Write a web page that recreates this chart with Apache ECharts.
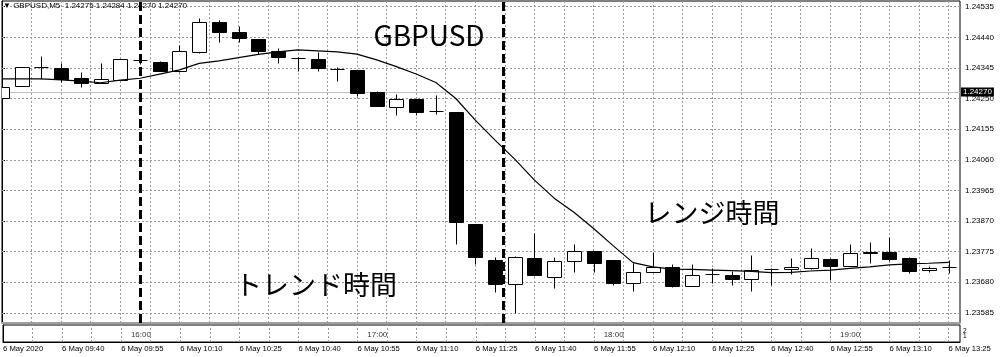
<!DOCTYPE html>
<html>
<head>
<meta charset="utf-8">
<script src="https://cdn.jsdelivr.net/npm/echarts@6/dist/echarts.min.js"></script>
<style>
html,body{margin:0;padding:0;background:#fff;}
#chart{width:1000px;height:357px;}
</style>
</head>
<body>
<div id="chart"></div>
<script>
// ---- data (GBPUSD M5, 6 May 2020, bars 09:25 .. 13:25) ----
var barOpen = [1.24252,1.24289,1.24347,1.24344,1.24313,1.24299,1.24308,1.24370,1.24364,1.24335,1.24394,1.24488,1.24456,1.24435,1.24398,1.24375,1.24372,1.24341,1.24339,1.24269,1.24225,1.24248,1.24212,1.24207,1.23860,1.23749,1.23674,1.23754,1.23697,1.23746,1.23778,1.23749,1.23677,1.23711,1.23726,1.23669,1.23705,1.23703,1.23690,1.23720,1.23720,1.23725,1.23752,1.23731,1.23770,1.23775,1.23756,1.23718,1.23728];
var barClose = [1.24287,1.24349,1.24347,1.24311,1.24299,1.24310,1.24372,1.24370,1.24336,1.24398,1.24488,1.24456,1.24437,1.24398,1.24378,1.24375,1.24344,1.24341,1.24268,1.24227,1.24248,1.24209,1.24212,1.23868,1.23758,1.23674,1.23758,1.23703,1.23746,1.23778,1.23741,1.23679,1.23711,1.23728,1.23669,1.23703,1.23705,1.23690,1.23718,1.23720,1.23726,1.23756,1.23731,1.23772,1.23775,1.23752,1.23716,1.23725,1.23728];
var barLow = [1.24246,1.24289,1.24310,1.24300,1.24287,1.24299,1.24308,1.24357,1.24335,1.24333,1.24391,1.24426,1.24426,1.24387,1.24361,1.24336,1.24335,1.24305,1.24258,1.24227,1.24199,1.24199,1.24202,1.23799,1.23737,1.23651,1.23584,1.23699,1.23661,1.23713,1.23713,1.23672,1.23653,1.23711,1.23666,1.23669,1.23679,1.23672,1.23654,1.23672,1.23705,1.23720,1.23687,1.23731,1.23739,1.23747,1.23708,1.23713,1.23710];
var barHigh = [1.24289,1.24349,1.24382,1.24359,1.24331,1.24361,1.24373,1.24385,1.24367,1.24416,1.24500,1.24494,1.24475,1.24435,1.24408,1.24378,1.24395,1.24349,1.24339,1.24273,1.24264,1.24248,1.24261,1.24208,1.23861,1.23759,1.23762,1.23832,1.23758,1.23798,1.23778,1.23749,1.23739,1.23775,1.23736,1.23736,1.23723,1.23715,1.23765,1.23724,1.23754,1.23785,1.23754,1.23799,1.23806,1.23821,1.23759,1.23731,1.23749];
var maLine = [1.24311,1.24311,1.24311,1.24308,1.24304,1.24299,1.24307,1.24313,1.24326,1.24339,1.24359,1.24367,1.24377,1.24387,1.24395,1.24401,1.24398,1.24395,1.24388,1.24370,1.24349,1.24326,1.24300,1.24251,1.24183,1.24121,1.24062,1.23997,1.23941,1.23897,1.23847,1.23793,1.23741,1.23728,1.23721,1.23720,1.23718,1.23716,1.23714,1.23710,1.23711,1.23715,1.23718,1.23723,1.23728,1.23734,1.23737,1.23739,1.23742];

var priceTicks = [1.23585,1.23680,1.23775,1.23870,1.23965,1.24060,1.24155,1.24250,1.24345,1.24440,1.24535];
var timeLabels = ['6 May 2020','6 May 09:40','6 May 09:55','6 May 10:10','6 May 10:25','6 May 10:40','6 May 10:55','6 May 11:10','6 May 11:25','6 May 11:40','6 May 11:55','6 May 12:10','6 May 12:25','6 May 12:40','6 May 12:55','6 May 13:10','6 May 13:25'];
var timeLabelBars = [0,3,6,9,12,15,18,21,24,27,30,33,36,39,42,45,48];
var gridBars = [1.5,3,4.5,6,7.5,9,10.5,12,13.5,15,16.5,18,19.5,21,22.5,24,25.5,27,28.5,30,31.5,33,34.5,36,37.5,39,40.5,42,43.5,45,46.5,48];
var localHourLabels = ['16:00','17:00','18:00','19:00'];
var localHourBars = [7,19,31,43];
var subLevelsText = '2\n1';
var markerBars = [7,25.4];
var bidPrice = 1.24270;
var headerText = '\u25BC GBPUSD,M5  1.24275 1.24284 1.24270 1.24270';
var titleText = 'GBPUSD';
var rangeText = 'レンジ時間';
var trendText = 'トレンド時間';

// ---- build ----
var candleData = barOpen.map(function (o, i) { return [i, o, barClose[i], barLow[i], barHigh[i]]; });
var maData = maLine.map(function (v, i) { return [i, v]; });
var hGridData = priceTicks.map(function (v) { return { yAxis: v }; });
var vGridData = gridBars.map(function (b) { return { xAxis: b }; });
var hourData = localHourBars.map(function (b, i) { return [b, 1.2, localHourLabels[i]]; });

var FONT = '"Liberation Sans", Arial, sans-serif';
var XMAX = 48.58;
var GRIDC = '#9a9a9a';
var GRIDLINE = { color: GRIDC, type: [2, 2], width: 1 };

var chart = echarts.init(document.getElementById('chart'), null, { renderer: 'canvas' });

function renderCandle(params, api) {
  var i = api.value(0), o = api.value(1), c = api.value(2), l = api.value(3), h = api.value(4);
  var pO = api.coord([i, o]), pC = api.coord([i, c]), pL = api.coord([i, l]), pH = api.coord([i, h]);
  var x = Math.round(pO[0]) + 0.5;
  var half = 7;
  var top = Math.round(Math.min(pO[1], pC[1])) + 0.5;
  var bot = Math.round(Math.max(pO[1], pC[1])) + 0.5;
  var kids = [{
    type: 'line',
    shape: { x1: x, y1: Math.round(pH[1]) + 0.5, x2: x, y2: Math.round(pL[1]) + 0.5 },
    style: { stroke: '#000', lineWidth: 1 }
  }];
  if (bot - top < 1) {
    kids.push({ type: 'line', shape: { x1: x - half, y1: top, x2: x + half, y2: top }, style: { stroke: '#000', lineWidth: 1 } });
  } else {
    kids.push({ type: 'rect', shape: { x: x - half, y: top, width: half * 2, height: bot - top },
      style: { fill: c > o ? '#fff' : '#000', stroke: '#000', lineWidth: 1 } });
  }
  return { type: 'group', children: kids };
}

var option = {
  animation: false,
  backgroundColor: '#fff',
  grid: [
    { left: 2, top: 1, width: 958, height: 322, show: true, borderColor: '#000', borderWidth: 1, backgroundColor: 'transparent' },
    { left: 2, top: 325, width: 958, height: 17, show: true, borderColor: '#000', borderWidth: 1, backgroundColor: 'transparent' }
  ],
  xAxis: [
    { type: 'value', gridIndex: 0, min: 0, max: XMAX,
      axisLine: { show: true, lineStyle: { color: '#a0a0a0', width: 2 } },
      axisTick: { show: false }, axisLabel: { show: false },
      splitLine: { show: false } },
    { type: 'value', gridIndex: 1, min: 0, max: XMAX,
      axisLine: { show: true, lineStyle: { color: '#000', width: 1 } },
      axisTick: { show: false },
      axisLabel: { show: true, customValues: timeLabelBars, align: 'left', margin: 3,
        fontFamily: FONT, fontSize: 7.7, color: '#000',
        formatter: function (v) { return timeLabels[timeLabelBars.indexOf(Math.round(v))]; } },
      splitLine: { show: false } }
  ],
  yAxis: [
    { type: 'value', gridIndex: 0, position: 'right', min: 1.2355366, max: 1.2455268, scale: true,
      axisLine: { show: true, lineStyle: { color: '#000', width: 1 } },
      axisTick: { show: true, customValues: priceTicks, length: 3, lineStyle: { color: '#000' } },
      axisLabel: { show: true, customValues: priceTicks, margin: 5, fontFamily: FONT, fontSize: 8, color: '#000',
        formatter: function (v) { return v.toFixed(5); } },
      splitLine: { show: false } },
    { type: 'value', gridIndex: 1, position: 'right', min: 0, max: 3,
      axisLine: { show: true, lineStyle: { color: '#000', width: 1 } },
      axisTick: { show: false },
      axisLabel: { show: true, customValues: [1.4], margin: 3, fontFamily: FONT, fontSize: 6.5, lineHeight: 5, color: '#000',
        formatter: function () { return subLevelsText; } },
      splitLine: { show: false } }
  ],
  graphic: [
    { type: 'text', left: 3, top: 2, z: 100, style: { text: headerText, font: '8px ' + FONT, fill: '#000' } },
    { type: 'text', x: 429, y: 35, z: 100, style: { text: titleText, font: '28px "Noto Sans CJK JP", "Noto Sans", sans-serif', fill: '#000', align: 'center', verticalAlign: 'middle' } },
    { type: 'text', x: 712, y: 213, z: 100, style: { text: rangeText, font: '27px "Noto Sans CJK JP", sans-serif', fill: '#000', align: 'center', verticalAlign: 'middle' } },
    { type: 'text', x: 316, y: 285, z: 100, style: { text: trendText, font: '27px "Noto Sans CJK JP", sans-serif', fill: '#000', align: 'center', verticalAlign: 'middle' } }
  ],
  series: [
    { type: 'line', xAxisIndex: 0, yAxisIndex: 0, data: [], silent: true, z: 1,
      markLine: { silent: true, symbol: 'none', animation: false, precision: 5,
        lineStyle: GRIDLINE, label: { show: false },
        data: hGridData.concat(vGridData) } },
    { type: 'line', xAxisIndex: 1, yAxisIndex: 1, data: [], silent: true, z: 1,
      markLine: { silent: true, symbol: 'none', animation: false, precision: 5,
        lineStyle: GRIDLINE, label: { show: false },
        data: vGridData } },
    { type: 'line', xAxisIndex: 0, yAxisIndex: 0, data: [], silent: true, z: 2,
      markLine: { silent: true, symbol: 'none', animation: false, precision: 5,
        lineStyle: { color: '#c0c0c0', type: 'solid', width: 1 },
        label: { show: true, position: 'end', distance: 1, formatter: bidPrice.toFixed(5),
          backgroundColor: '#000', color: '#fff', padding: [1, 2, 0, 2], fontFamily: FONT, fontSize: 8 },
        data: [{ yAxis: bidPrice }] } },
    { type: 'custom', name: 'GBPUSD', xAxisIndex: 0, yAxisIndex: 0, clip: true, z: 5,
      renderItem: renderCandle, data: candleData,
      encode: { x: 0, y: [1, 2, 3, 4] } },
    { type: 'line', name: 'MA', xAxisIndex: 0, yAxisIndex: 0, data: maData, showSymbol: false, z: 6,
      lineStyle: { color: '#000', width: 1.2 }, clip: true,
      markLine: { silent: true, symbol: 'none', animation: false, precision: 2,
        lineStyle: { color: '#000', type: [9, 4], width: 3 }, label: { show: false },
        data: markerBars.map(function (b) { return { xAxis: b }; }) } },
    { type: 'scatter', xAxisIndex: 1, yAxisIndex: 1, data: hourData, symbolSize: 0, silent: true,
      label: { show: true, position: 'inside', formatter: function (p) { return p.value[2]; },
        fontFamily: FONT, fontSize: 8, color: '#000' } }
  ]
};
chart.setOption(option);
</script>
</body>
</html>
